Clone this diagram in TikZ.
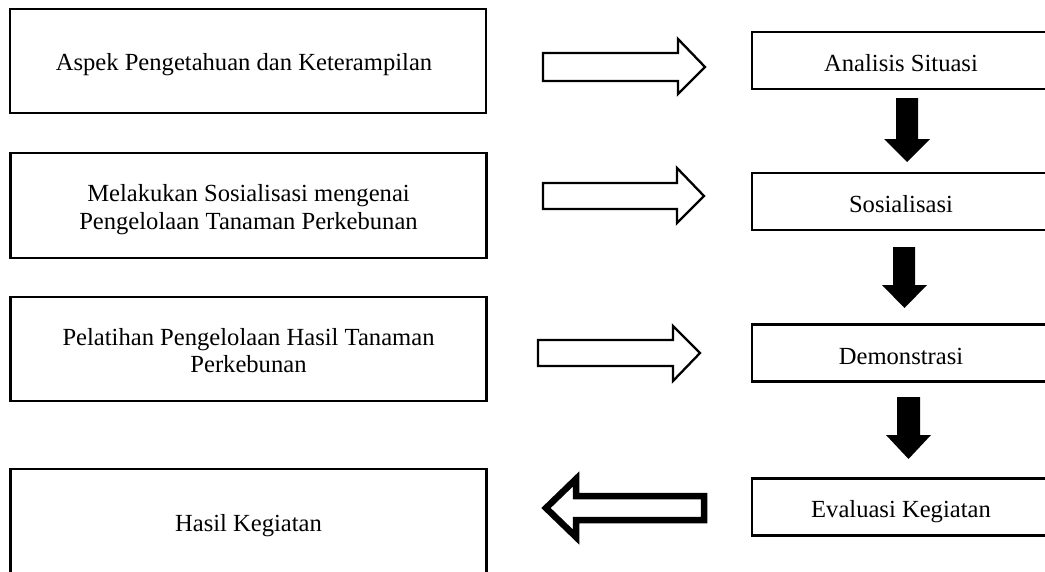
\documentclass[tikz,border=0pt]{standalone}
\usepackage{fontspec}
\setmainfont{Liberation Serif}
\begin{document}
\begin{tikzpicture}[x=1pt,y=-1pt,
  lbox/.style={draw, line width=2.6pt, inner sep=0pt, minimum width=476pt},
  rbox/.style={draw, line width=2.2pt, inner sep=0pt, minimum width=298pt, minimum height=57pt},
  txt/.style={align=center, inner sep=0pt,
    font=\fontsize{24.6}{27.5}\selectfont},
  harrow/.style={draw, line width=2.3pt, fill=white, line join=miter},
  barrow/.style={fill=black},
  thickarrow/.style={draw, line width=6.5pt, fill=white, line join=miter}]
\clip (0,0) rectangle (1045,571);
\fill[white] (0,0) rectangle (1045,571);

% left column
\node[lbox, minimum height=104pt] (b1) at (248,61) {};
\node[txt, anchor=base] (b1t) at (244,70.7) {Aspek Pengetahuan dan Keterampilan};
\node[lbox, minimum height=105pt] (b2) at (248.5,205.5) {};
\node[txt] (b2t) at (248.5,209.8) {Melakukan Sosialisasi mengenai\\Pengelolaan Tanaman Perkebunan};
\node[lbox, minimum height=104pt] (b3) at (248.5,349) {};
\node[txt] (b3t) at (248.5,350.4) {Pelatihan Pengelolaan Hasil Tanaman\\Perkebunan};
\node[lbox, minimum height=108pt] (b4) at (248.5,523) {};
\node[txt, anchor=base] (b4t) at (248.5,531) {Hasil Kegiatan};

% right column
\node[rbox] (r1) at (901,60.5) {};
\node[txt, anchor=base] (r1t) at (901,71.5) {Analisis Situasi};
\node[rbox] (r2) at (901,201.5) {};
\node[txt, anchor=base] (r2t) at (901,212.7) {Sosialisasi};
\node[rbox] (r3) at (901,353) {};
\node[txt, anchor=base] (r3t) at (901,364) {Demonstrasi};
\node[rbox] (r4) at (901,507) {};
\node[txt, anchor=base] (r4t) at (901,517.5) {Evaluasi Kegiatan};

% hollow right arrows
\draw[harrow] (543,53) -- (678,53) -- (678,39) -- (705,67) -- (678,94) -- (678,81) -- (543,81) -- cycle;
\draw[harrow] (543,183) -- (677,183) -- (677,168) -- (704,196) -- (677,223) -- (677,209) -- (543,209) -- cycle;
\draw[harrow] (538,340) -- (673,340) -- (673,326) -- (700,353) -- (673,381) -- (673,366) -- (538,366) -- cycle;

% black down arrows
\fill[barrow] (896,98) -- (918,98) -- (918,139) -- (930,139) -- (907,162) -- (884,139) -- (896,139) -- cycle;
\fill[barrow] (893,247) -- (915,247) -- (915,285) -- (927,285) -- (904.5,308) -- (882,285) -- (893,285) -- cycle;
\fill[barrow] (897,397) -- (920,397) -- (920,435) -- (931,435) -- (908.5,459) -- (886,435) -- (897,435) -- cycle;

% thick left arrow
\draw[thickarrow] (704,496) -- (576,496) -- (576,479) -- (546,508) -- (576,537) -- (576,520) -- (704,520) -- cycle;
\end{tikzpicture}
\end{document}
